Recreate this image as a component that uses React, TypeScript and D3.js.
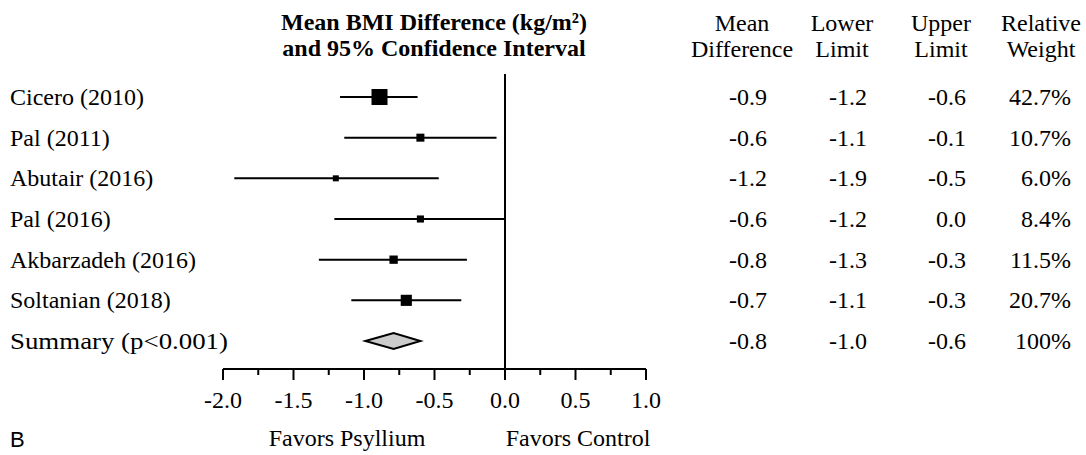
import React from "react";
import * as d3 from "d3";

const studies = [
  "Cicero (2010)",
  "Pal (2011)",
  "Abutair (2016)",
  "Pal (2016)",
  "Akbarzadeh (2016)",
  "Soltanian (2018)",
];
const means = [-0.89, -0.6, -1.2, -0.6, -0.79, -0.7];
const lowers = [-1.17, -1.14, -1.92, -1.21, -1.32, -1.09];
const uppers = [-0.62, -0.06, -0.47, 0.0, -0.27, -0.31];
const weights = [42.7, 10.7, 6.0, 8.4, 11.5, 20.7];

const summaryLabel = "Summary (p<0.001)";
const summaryMean = -0.79;
const summaryLower = -0.99;
const summaryUpper = -0.6;

const colHeaders = [
  ["Mean", "Difference"],
  ["Lower", "Limit"],
  ["Upper", "Limit"],
  ["Relative", "Weight"],
];
const meanLabels = ["-0.9", "-0.6", "-1.2", "-0.6", "-0.8", "-0.7", "-0.8"];
const lowerLabels = ["-1.2", "-1.1", "-1.9", "-1.2", "-1.3", "-1.1", "-1.0"];
const upperLabels = ["-0.6", "-0.1", "-0.5", "0.0", "-0.3", "-0.3", "-0.6"];
const weightLabels = ["42.7%", "10.7%", "6.0%", "8.4%", "11.5%", "20.7%", "100%"];

const majorTicks = [-2.0, -1.5, -1.0, -0.5, 0.0, 0.5, 1.0];
const minorTicks = [-1.75, -1.25, -0.75, -0.25, 0.25, 0.75];

const titleLines = ["Mean BMI Difference (kg/m²)", "and 95% Confidence Interval"];
const favorLeft = "Favors Psyllium";
const favorRight = "Favors Control";
const panelLetter = "B";

export default function App() {
  const W = 1086;
  const H = 455;
  const serif = "'Liberation Serif', 'Times New Roman', serif";
  const fs = 24;

  const x = d3.scaleLinear().domain([-2, 1]).range([223, 646]);
  const rows = [...studies, summaryLabel];
  const y = d3.scalePoint<string>().domain(rows).range([97, 341]);
  const size = d3.scaleSqrt().domain([0, 42.7]).range([0, 16]);

  const axisY = 369;
  const colRight = [767, 867, 966, 1071];
  const colCenter = [742, 842, 941, 1041];
  const tableCols = [meanLabels, lowerLabels, upperLabels, weightLabels];

  const sy = y(summaryLabel)!;
  const diamond = [
    [x(summaryLower), sy],
    [x(summaryMean), sy - 8],
    [x(summaryUpper), sy],
    [x(summaryMean), sy + 8],
  ]
    .map((p) => p.join(","))
    .join(" ");

  return (
    <svg
      width={W}
      height={H}
      style={{ position: "absolute", left: 0, top: 0, background: "#fff" }}
      fontFamily={serif}
    >
      <rect x={0} y={0} width={W} height={H} fill="#fff" />
      {titleLines.map((t, i) => (
        <text
          key={t}
          x={434}
          y={30 + i * 26}
          textAnchor="middle"
          fontWeight="bold"
          fontSize={24}
        >
          {t}
        </text>
      ))}
      {colHeaders.map((h, c) =>
        h.map((t, i) => (
          <text
            key={c + "-" + i}
            x={colCenter[c]}
            y={31 + i * 26}
            textAnchor="middle"
            fontSize={fs}
          >
            {t}
          </text>
        ))
      )}
      {rows.map((r) =>
        r === summaryLabel ? (
          <text key={r} x={10} y={y(r)! + 8} fontSize={fs} textLength={218} lengthAdjust="spacingAndGlyphs">
            {r}
          </text>
        ) : (
          <text key={r} x={10} y={y(r)! + 8} fontSize={fs}>
            {r}
          </text>
        )
      )}
      {tableCols.map((col, c) =>
        col.map((v, i) => (
          <text
            key={c + "v" + i}
            x={colRight[c]}
            y={y(rows[i])! + 8}
            textAnchor="end"
            fontSize={fs}
          >
            {v}
          </text>
        ))
      )}
      <line x1={x(0)} x2={x(0)} y1={74} y2={axisY} stroke="#000" strokeWidth={2} />
      {studies.map((s, i) => {
        const cy = y(s)!;
        const sz = size(weights[i]);
        return (
          <g key={s}>
            <line
              x1={x(lowers[i])}
              x2={x(uppers[i])}
              y1={cy}
              y2={cy}
              stroke="#000"
              strokeWidth={2}
            />
            <rect
              x={x(means[i]) - sz / 2}
              y={cy - sz / 2}
              width={sz}
              height={sz}
              fill="#000"
            />
          </g>
        );
      })}
      <polygon points={diamond} fill="#cccccc" stroke="#000" strokeWidth={2} strokeLinejoin="miter" />
      <line x1={x(-2)} x2={x(1)} y1={axisY} y2={axisY} stroke="#000" strokeWidth={2} />
      {majorTicks.map((t) => (
        <g key={"M" + t}>
          <line x1={x(t)} x2={x(t)} y1={axisY} y2={axisY + 11} stroke="#000" strokeWidth={2} />
          <text x={x(t)} y={axisY + 39} textAnchor="middle" fontSize={fs}>
            {d3.format(".1f")(t).replace("−", "-")}
          </text>
        </g>
      ))}
      {minorTicks.map((t) => (
        <line key={"m" + t} x1={x(t)} x2={x(t)} y1={axisY} y2={axisY + 6} stroke="#000" strokeWidth={2} />
      ))}
      <text x={347} y={446} textAnchor="middle" fontSize={fs}>
        {favorLeft}
      </text>
      <text x={578} y={446} textAnchor="middle" fontSize={fs}>
        {favorRight}
      </text>
      <text x={10} y={447} fontSize={22} fontFamily="'Liberation Sans', Arial, sans-serif">
        {panelLetter}
      </text>
    </svg>
  );
}
